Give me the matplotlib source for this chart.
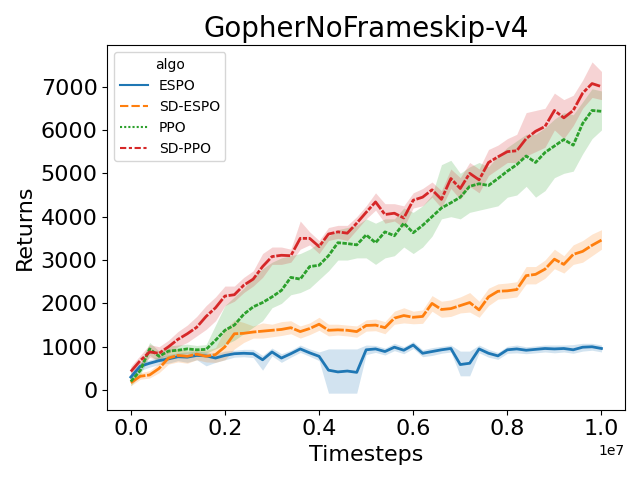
import numpy as np
import matplotlib
matplotlib.use("Agg")
import matplotlib.pyplot as plt
from matplotlib.ticker import MultipleLocator
from matplotlib.lines import Line2D

# timesteps, every 200k
steps = np.arange(51) * 200000

algos = ["ESPO", "SD-ESPO", "PPO", "SD-PPO"]

espo = [300, 550, 620, 680, 720, 770, 760, 800, 790, 740,
        800, 840, 850, 840, 700, 880, 740, 840, 950, 860,
        780, 460, 420, 440, 410, 930, 950, 890, 990, 920,
        1040, 850, 890, 930, 960, 590, 620, 950, 850, 790,
        930, 950, 920, 940, 960, 950, 960, 930, 990, 1000, 960]
espo_lo = [200, 450, 530, 590, 620, 680, 640, 700, 560, 640,
           700, 760, 770, 750, 460, 790, 640, 760, 870, 780,
           680, -70, -70, -70, -70, 820, 870, 810, 910, 840,
           960, 770, 800, 850, 880, 330, 330, 860, 760, 710,
           850, 860, 840, 860, 880, 860, 880, 850, 900, 920, 880]
espo_hi = [420, 650, 700, 770, 820, 860, 880, 900, 880, 840,
           900, 920, 940, 940, 800, 970, 840, 920, 1040, 950,
           880, 950, 950, 950, 950, 1040, 1030, 970, 1080, 1000,
           1120, 930, 980, 1010, 1040, 900, 900, 1040, 940, 870,
           1010, 1040, 1000, 1020, 1040, 1040, 1040, 1050, 1080, 1080, 1040]

sd_espo = [170, 320, 350, 500, 740, 800, 780, 830, 780, 820,
           1000, 1300, 1310, 1340, 1360, 1380, 1400, 1440, 1350, 1420,
           1520, 1380, 1390, 1380, 1350, 1490, 1500, 1440, 1660, 1720,
           1680, 1700, 2000, 1860, 1880, 1950, 2020, 1850, 2150, 2280,
           2290, 2320, 2640, 2670, 2790, 3020, 2900, 3130, 3200, 3340, 3460]
sd_espo_lo = [100, 250, 280, 400, 600, 650, 620, 700, 650, 640,
              700, 950, 1100, 1200, 1200, 1230, 1260, 1300, 1200, 1280,
              1380, 1250, 1270, 1250, 1220, 1360, 1370, 1300, 1520, 1550,
              1530, 1540, 1820, 1680, 1700, 1780, 1800, 1680, 1950, 2100,
              2120, 2150, 2450, 2450, 2580, 2800, 2700, 2900, 2950, 3100, 3250]
sd_espo_hi = [250, 400, 450, 620, 880, 950, 900, 950, 920, 980,
              1400, 1620, 1560, 1480, 1550, 1520, 1580, 1600, 1480, 1550,
              1680, 1520, 1520, 1500, 1480, 1620, 1640, 1580, 1820, 1900,
              1820, 1850, 2180, 2050, 2080, 2150, 2250, 2050, 2350, 2450,
              2470, 2500, 2850, 2850, 3000, 3250, 3100, 3350, 3450, 3600, 3700]

ppo = [200, 450, 950, 780, 900, 920, 950, 930, 940, 1150,
       1380, 1500, 1750, 1920, 2020, 2150, 2300, 2600, 2560, 2850,
       2880, 3100, 3400, 3380, 3350, 3580, 3400, 3650, 3560, 3850,
       3630, 3800, 4000, 4200, 4320, 4450, 4700, 4760, 4720, 4880,
       5050, 5200, 5400, 5250, 5480, 5630, 5780, 5650, 6150, 6450, 6430]
ppo_lo = [100, 350, 800, 650, 780, 800, 850, 830, 850, 950,
          1050, 1150, 1300, 1450, 1600, 1900, 2000, 2200, 2250, 2350,
          2550, 2750, 3000, 3000, 3050, 3050, 2900, 3050, 3100, 3300,
          3150, 3300, 3550, 3950, 4000, 3950, 4100, 4150, 4200, 4250,
          4450, 4500, 4700, 4450, 4600, 4900, 5000, 5050, 5450, 5800, 6000]
ppo_hi = [300, 600, 1100, 900, 1020, 1040, 1060, 1030, 1050, 1500,
          1950, 2150, 2350, 2600, 2800, 2950, 3050, 3100, 3150, 3250,
          3400, 3550, 3700, 3750, 3800, 3950, 3850, 3950, 3950, 4200,
          4100, 4250, 4500, 5200, 5300, 5000, 5150, 5250, 5150, 5400,
          5600, 5750, 5900, 5900, 6050, 6250, 6400, 6350, 6650, 6950, 6900]

sd_ppo = [430, 680, 880, 850, 1000, 1170, 1300, 1450, 1700, 1900,
          2170, 2200, 2420, 2560, 2850, 3080, 3110, 3100, 3500, 3500,
          3310, 3600, 3650, 3620, 3850, 4100, 4340, 4050, 4080, 3970,
          4380, 4450, 4620, 4400, 4880, 4650, 5000, 4850, 5250, 5380,
          5500, 5520, 5800, 5970, 6080, 6450, 6280, 6450, 6850, 7070, 7000]
sd_ppo_lo = [350, 550, 750, 700, 850, 1000, 1100, 1250, 1400, 1600,
             1950, 2050, 2250, 2400, 2600, 2900, 2900, 2950, 3250, 3350,
             3150, 3450, 3500, 3450, 3700, 3950, 4150, 3850, 3900, 3750,
             4200, 4250, 4450, 4200, 4650, 4400, 4700, 4550, 4950, 5100,
             5250, 5250, 5400, 5500, 5600, 6000, 5800, 6100, 6500, 6750, 6700]
sd_ppo_hi = [550, 800, 1050, 1000, 1150, 1350, 1500, 1700, 1950, 2150,
             2400, 2400, 2600, 2750, 3150, 3300, 3300, 3250, 3900, 3650,
             3450, 3750, 3800, 3800, 4000, 4250, 4550, 4300, 4300, 4250,
             4550, 4650, 4800, 4600, 5100, 4900, 5250, 5100, 5550, 5650,
             5800, 5900, 6400, 6450, 6500, 6850, 6700, 6800, 7150, 7570, 7350]

series = {
    "ESPO": (espo, espo_lo, espo_hi),
    "SD-ESPO": (sd_espo, sd_espo_lo, sd_espo_hi),
    "PPO": (ppo, ppo_lo, ppo_hi),
    "SD-PPO": (sd_ppo, sd_ppo_lo, sd_ppo_hi),
}
colors = ["#1f77b4", "#ff7f0e", "#2ca02c", "#d62728"]
# the noisy curves in the original hide most of the gaps, so plot tight dashes
plot_styles = ["-", (0, (6, 0.6)), (0, (1.6, 0.5)), (0, (5, 0.6, 1.5, 0.6))]
legend_styles = ["-", (0, (4, 1.5)), (0, (1, 1)), (0, (3, 1.25, 1.5, 1.25))]

fig, ax = plt.subplots(figsize=(6.4, 4.8), dpi=100)

for name, c, ls in zip(algos, colors, plot_styles):
    mean, lo, hi = series[name]
    ax.fill_between(steps, lo, hi, color=c, alpha=0.2, linewidth=0)
    ax.plot(steps, mean, color=c, linestyle=ls, linewidth=2)

ax.set_title("GopherNoFrameskip-v4", fontsize=20)
ax.set_xlabel("Timesteps", fontsize=16)
ax.set_ylabel("Returns", fontsize=16)
ax.tick_params(labelsize=16)
ax.yaxis.set_major_locator(MultipleLocator(1000))

handles = [Line2D([], [], color=c, linestyle=ls, linewidth=1.5)
           for c, ls in zip(colors, legend_styles)]
ax.legend(handles, algos, title="algo", loc="upper left", fontsize=10)

fig.tight_layout()
fig.savefig("out.png")
